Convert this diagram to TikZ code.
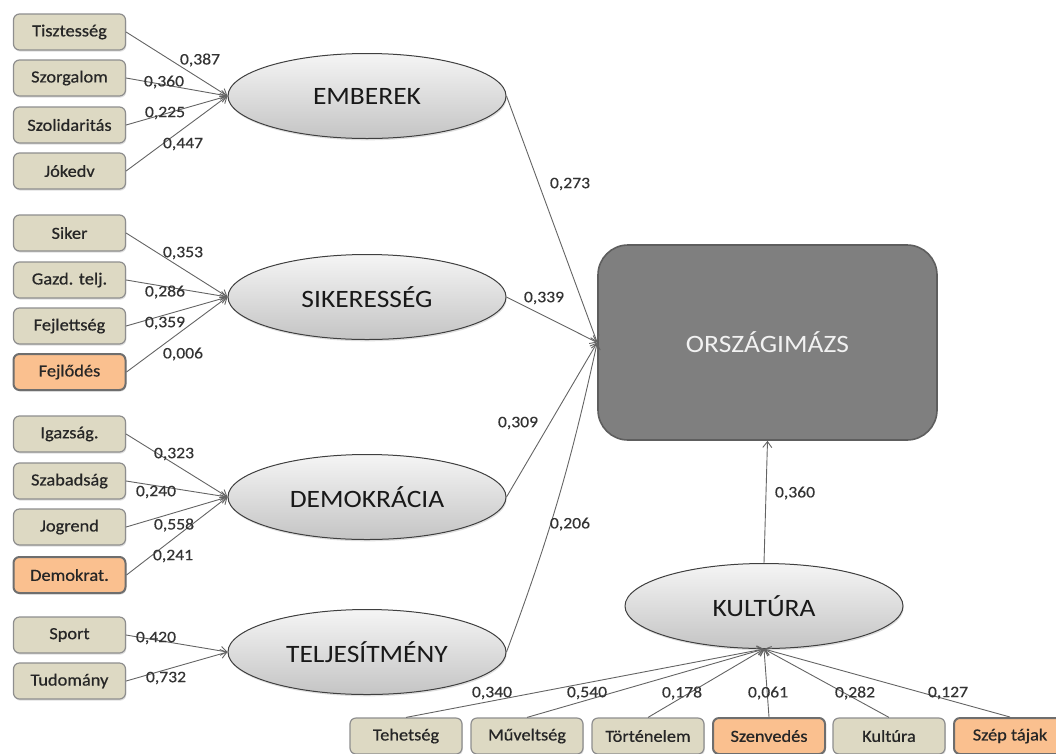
\documentclass[tikz,border=0pt]{standalone}
\usepackage{fontspec}
\setmainfont{Carlito}
\newfontfamily\itemfont[FakeStretch=1.08,FakeBold=0.6]{Carlito}
\newfontfamily\bigfont[FakeStretch=1.10]{Carlito}
\newfontfamily\numfont[FakeStretch=1.10,FakeBold=0.4]{Carlito}
\usetikzlibrary{arrows.meta,shapes.geometric,shadows}
\definecolor{itemfill}{HTML}{DDD9C3}
\definecolor{itemline}{HTML}{8E8E8E}
\definecolor{hotfill}{HTML}{FAC08F}
\definecolor{hotline}{HTML}{6E6E6E}
\definecolor{wire}{HTML}{646464}
\definecolor{ovalline}{HTML}{3F3F3F}
\definecolor{mainfill}{HTML}{7F7F7F}
\definecolor{mainline}{HTML}{5E5E5E}
\definecolor{numtext}{HTML}{333333}

\tikzset{
  item/.style={rectangle, rounded corners=6pt, minimum width=112pt, minimum height=36pt,
    fill=itemfill, draw=itemline, line width=1.2pt, text=black!85,
    font=\itemfont\fontsize{17}{19}\selectfont,
    drop shadow={shadow xshift=0.8pt, shadow yshift=-1.6pt, opacity=0.25}},
  hot/.style={item, fill=hotfill, draw=hotline, line width=2pt},
  factor/.style={ellipse, minimum width=278pt, minimum height=85pt, inner sep=0pt,
    draw=ovalline, line width=1pt, top color=white!96!black, bottom color=black!23,
    text=black!90, font=\bigfont\fontsize{25}{28}\selectfont,
    drop shadow={shadow xshift=0.8pt, shadow yshift=-1.8pt, opacity=0.25}},
  target/.style={rectangle, rounded corners=30pt, minimum width=339pt, minimum height=195pt,
    fill=mainfill, draw=mainline, line width=1.6pt, text=white!95!black,
    font=\bigfont\fontsize{25}{28}\selectfont},
  link/.style={draw=wire, line width=0.9pt, -{Straight Barb[length=6pt,width=9pt]}},
  coef/.style={text=numtext, font=\numfont\fontsize{16}{18}\selectfont, inner sep=0pt}
}

\begin{document}
\begin{tikzpicture}[x=1pt,y=-1pt]
\useasboundingbox (0,0) rectangle (1056,753);

% latent factors
\node[factor] (emb) at (367,96) {EMBEREK};
\node[factor] (sik) at (367,297) {SIKERESSÉG};
\node[factor] (dem) at (367,497) {DEMOKRÁCIA};
\node[factor] (tel) at (367,652) {TELJESÍTMÉNY};
\node[factor] (kul) at (764,606) {KULTÚRA};

% outcome
\node[target] (orsz) at (767.5,342.5) {ORSZÁGIMÁZS};

% indicators, left column
\node[item] (tisz) at (69.5,32)  {Tisztesség};
\node[item] (szor) at (69.5,78)  {Szorgalom};
\node[item] (szol) at (69.5,125) {Szolidaritás};
\node[item] (joke) at (69.5,171) {Jókedv};

\node[item] (sike) at (69.5,233) {Siker};
\node[item] (gazd) at (69.5,280) {Gazd. telj.};
\node[item] (fejl) at (69.5,326) {Fejlettség};
\node[hot]  (fejo) at (69.5,372) {Fejlődés};

\node[item] (igaz) at (69.5,434) {Igazság.};
\node[item] (szab) at (69.5,481) {Szabadság};
\node[item] (jogr) at (69.5,527) {Jogrend};
\node[hot]  (demk) at (69.5,575) {Demokrat.};

\node[item] (spor) at (69.5,635) {Sport};
\node[item] (tudo) at (69.5,681) {Tudomány};

% indicators, bottom row
\node[item] (tehe) at (406,736) {Tehetség};
\node[item] (muve) at (527,736) {Műveltség};
\node[item] (tort) at (648,736) {Történelem};
\node[hot]  (szen) at (769,736) {Szenvedés};
\node[item] (kult) at (889,736) {Kultúra};
\node[hot]  (szep) at (1010,736) {Szép tájak};

% indicator loadings
\foreach \a in {tisz,szor,szol,joke} \draw[link] (\a.east) -- (emb.west);
\foreach \a in {sike,gazd,fejl,fejo} \draw[link] (\a.east) -- (sik.west);
\foreach \a in {igaz,szab,jogr,demk} \draw[link] (\a.east) -- (dem.west);
\foreach \a in {spor,tudo} \draw[link] (\a.east) -- (tel.west);
\foreach \a in {tehe,muve,tort,szen,kult,szep} \draw[link] (\a.north) -- (kul.south);

% structural paths
\draw[link] (emb.east) -- (orsz.west);
\draw[link] (sik.east) -- (orsz.west);
\draw[link] (dem.east) -- (orsz.west);
\draw[link] (tel.east) to[bend right=4] (orsz.west);
\draw[link] (kul.north) -- (orsz.south);

% coefficients
\node[coef] (c1)  at (200,60)  {0,387};
\node[coef] (c2)  at (164,82)  {0,360};
\node[coef] (c3)  at (165,113) {0,225};
\node[coef] (c4)  at (183,144) {0,447};
\node[coef] (c5)  at (183,253) {0,353};
\node[coef] (c6)  at (165,292) {0,286};
\node[coef] (c7)  at (165,323) {0,359};
\node[coef] (c8)  at (183,354) {0,006};
\node[coef] (c9)  at (174,454) {0,323};
\node[coef] (c10) at (156,492) {0,240};
\node[coef] (c11) at (174,525) {0,558};
\node[coef] (c12) at (173,556) {0,241};
\node[coef] (c13) at (156,638) {0,420};
\node[coef] (c14) at (166,678) {0,732};

\node[coef] (s1) at (570,184) {0,273};
\node[coef] (s2) at (544,298) {0,339};
\node[coef] (s3) at (518,423) {0,309};
\node[coef] (s4) at (570,524) {0,206};
\node[coef] (s5) at (795,493) {0,360};

\node[coef] (k1) at (492,693) {0,340};
\node[coef] (k2) at (587,693) {0,540};
\node[coef] (k3) at (682,693) {0,178};
\node[coef] (k4) at (768,693) {0,061};
\node[coef] (k5) at (855,693) {0,282};
\node[coef] (k6) at (948,693) {0,127};
\end{tikzpicture}
\end{document}
